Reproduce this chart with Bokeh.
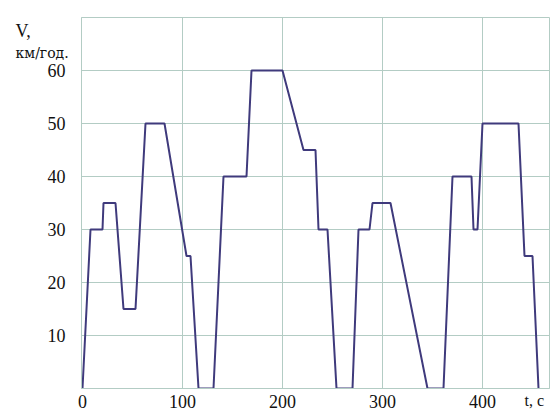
from bokeh.plotting import figure
from bokeh.models import FixedTicker, Range1d
from bokeh.core.properties import value
from bokeh.embed import file_html
from bokeh.resources import INLINE

# time, s and speed, km/h
t_s = [0, 8, 20, 21, 33, 41, 53, 63, 82, 104, 108, 116, 131, 141, 164, 169, 200,
       221, 233, 236, 245, 254, 270, 276, 287, 290, 308, 345, 361, 370, 389, 391,
       395, 400, 436, 442, 450, 456]
v_kmh = [0, 30, 30, 35, 35, 15, 15, 50, 50, 25, 25, 0, 0, 40, 40, 60, 60,
         45, 45, 30, 30, 0, 0, 30, 30, 35, 35, 0, 0, 40, 40, 30,
         30, 50, 50, 25, 25, 0]
x_ticks = [0, 100, 200, 300, 400]
y_ticks = [10, 20, 30, 40, 50, 60]
y_title_1 = "V,"
y_title_2 = "км/год."
x_title = "t, c"

GRID = "#b3ccc4"
LINE = "#3f3a7c"
FONT = "Times New Roman"
CYRFONT = "DejaVu Serif"

p = figure(width=550, height=410, output_backend="svg", toolbar_location=None,
           x_range=Range1d(-1, 467), y_range=Range1d(0, 70),
           min_border_left=81, min_border_right=1, min_border_top=17,
           min_border_bottom=0)
p.background_fill_color = "white"
p.border_fill_color = "white"
p.outline_line_color = GRID
p.outline_line_width = 1

p.line(t_s, v_kmh, line_color=LINE, line_width=2)

p.xaxis.ticker = FixedTicker(ticks=x_ticks)
p.yaxis.ticker = FixedTicker(ticks=y_ticks)
for ax in (p.xaxis, p.yaxis):
    ax.axis_line_color = GRID
    ax.major_tick_line_color = None
    ax.minor_tick_line_color = None
    ax.major_label_text_font = FONT
    ax.major_label_text_font_size = "18px"
    ax.major_label_text_color = "#111111"
p.xaxis.major_label_standoff = 0
p.yaxis.major_label_standoff = 10

p.xgrid.ticker = FixedTicker(ticks=[100, 200, 300, 400])
p.ygrid.ticker = FixedTicker(ticks=y_ticks)
p.xgrid.grid_line_color = GRID
p.ygrid.grid_line_color = GRID

# axis titles (overlay level so they are drawn outside the frame)
p.text(x=[-67], y=[67.5], text=[y_title_1], text_font=value(FONT),
       text_font_size="18px", text_color="#111111",
       text_align="left", text_baseline="alphabetic", level="overlay")
p.text(x=[-67], y=[63.3], text=[y_title_2], text_font=value(CYRFONT),
       text_font_size="14px", text_color="#111111",
       text_align="left", text_baseline="alphabetic", level="overlay")
p.text(x=[442], y=[-0.75], text=[x_title], text_font=value(FONT),
       text_font_size="16px", text_color="#111111",
       text_align="left", text_baseline="top", level="overlay")

open("out.html", "w").write(file_html(p, INLINE))
